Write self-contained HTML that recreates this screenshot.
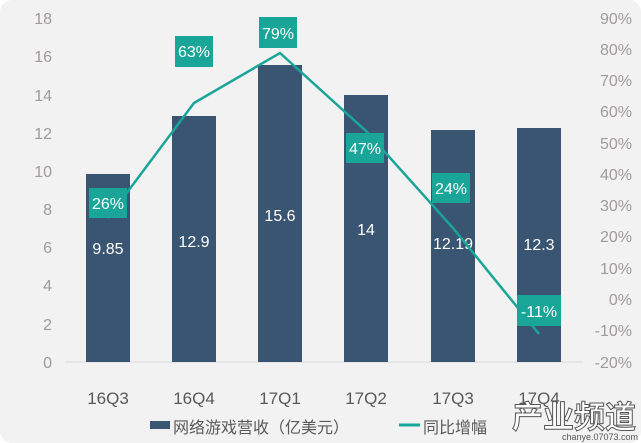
<!DOCTYPE html>
<html><head><meta charset="utf-8"><style>
body{margin:0;background:#fff}
svg{display:block}
text{font-family:"Liberation Sans","Noto Sans CJK SC",sans-serif}
</style></head><body>
<svg width="641" height="443" viewBox="0 0 641 443">
<rect x="0" y="0" width="641" height="443" rx="12" fill="#f2f2f2"/>
<g fill="#a09a9a" font-size="16" text-anchor="end">
<text x="52" y="24">18</text><text x="52" y="62">16</text><text x="52" y="101">14</text>
<text x="52" y="139">12</text><text x="52" y="177">10</text><text x="52" y="215">8</text>
<text x="52" y="253">6</text><text x="52" y="291">4</text><text x="52" y="330">2</text>
<text x="52" y="368">0</text>
</g>
<g fill="#a09a9a" font-size="16" text-anchor="end">
<text x="632" y="24">90%</text><text x="632" y="55">80%</text><text x="632" y="86">70%</text>
<text x="632" y="117">60%</text><text x="632" y="149">50%</text><text x="632" y="180">40%</text>
<text x="632" y="211">30%</text><text x="632" y="242">20%</text><text x="632" y="274">10%</text>
<text x="632" y="305">0%</text><text x="632" y="336">-10%</text><text x="632" y="368">-20%</text>
</g>
<line x1="65" y1="362" x2="583" y2="362" stroke="#d9d9d9"/>
<g fill="#3a5572">
<rect x="86" y="174" width="44" height="188"/>
<rect x="172" y="116" width="44" height="246"/>
<rect x="258" y="65" width="44" height="297"/>
<rect x="344" y="95" width="44" height="267"/>
<rect x="431" y="130" width="44" height="232"/>
<rect x="517" y="128" width="44" height="234"/>
</g>
<g fill="#fff" font-size="16" text-anchor="middle">
<text x="108" y="254">9.85</text><text x="194" y="247">12.9</text><text x="280" y="221">15.6</text>
<text x="366" y="235">14</text><text x="453" y="249">12.19</text><text x="539" y="250">12.3</text>
</g>
<polyline points="108,218 194,103 280,53 366,131 453,228 539,334" fill="none" stroke="#1aa599" stroke-width="2.5"/>
<g fill="#1aa599">
<rect x="89" y="188" width="38" height="30"/>
<rect x="175" y="36" width="38" height="31"/>
<rect x="259" y="17" width="38" height="31"/>
<rect x="346" y="133" width="38" height="30"/>
<rect x="432" y="173" width="38" height="30"/>
<rect x="517" y="295" width="44" height="31"/>
</g>
<g fill="#fff" font-size="16" text-anchor="middle">
<text x="108" y="209">26%</text><text x="194" y="57">63%</text><text x="278" y="39">79%</text>
<text x="365" y="154">47%</text><text x="451" y="194">24%</text><text x="539" y="317">-11%</text>
</g>
<g fill="#595959" font-size="17" text-anchor="middle">
<text x="108" y="404">16Q3</text><text x="194" y="404">16Q4</text><text x="280" y="404">17Q1</text>
<text x="366" y="404">17Q2</text><text x="453" y="404">17Q3</text><text x="539" y="404">17Q4</text>
</g>
<rect x="150" y="421" width="20" height="8" fill="#3a5572"/>
<text x="173" y="433" fill="#595959" font-size="16">网络游戏营收（亿美元）</text>
<line x1="399" y1="425" x2="420" y2="425" stroke="#1aa599" stroke-width="3"/>
<text x="423" y="433" fill="#595959" font-size="16">同比增幅</text>
<text x="512" y="428" fill="#ffffff" stroke="#555" stroke-width="1" font-size="31" font-weight="bold">产业频道</text>
<text x="600" y="440" fill="#555" font-size="9" text-anchor="middle">chanye.07073.com</text>
</svg>
</body></html>
